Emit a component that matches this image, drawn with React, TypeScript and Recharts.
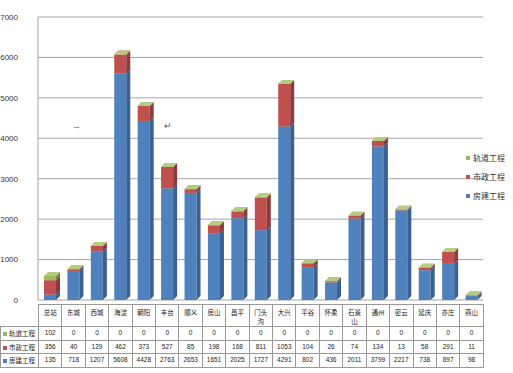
import React from 'react';
import { BarChart, Bar, XAxis, YAxis, CartesianGrid } from 'recharts';

const categories = ['总站', '东城', '西城', '海淀', '朝阳', '丰台', '顺义', '房山', '昌平', '门头沟', '大兴', '平谷', '怀柔', '石景山', '通州', '密云', '延庆', '亦庄', '燕山'];
const fangjian = [135, 718, 1207, 5608, 4428, 2763, 2653, 1651, 2025, 1727, 4291, 802, 436, 2011, 3799, 2217, 738, 897, 98];
const shizheng = [356, 40, 129, 462, 373, 527, 85, 198, 168, 811, 1053, 104, 26, 74, 134, 13, 58, 291, 11];
const guidao = [102, 0, 0, 0, 0, 0, 0, 0, 0, 0, 0, 0, 0, 0, 0, 0, 0, 0, 0];
const yTicks = [0, 1000, 2000, 3000, 4000, 5000, 6000, 7000];

const series = [
  { key: 'guidao', name: '轨道工程', front: '#9BBB59', side: '#738B42', top: '#B3CC80', values: guidao },
  { key: 'shizheng', name: '市政工程', front: '#C0504D', side: '#8E3B39', top: '#D07572', values: shizheng },
  { key: 'fangjian', name: '房建工程', front: '#4F81BD', side: '#3A6192', top: '#7298CB', values: fangjian },
];

const data = categories.map((c, i) => ({
  name: c,
  fangjian: fangjian[i],
  shizheng: shizheng[i],
  guidao: guidao[i],
}));

const D = 4;
const make3D = (front: string, side: string, top: string) => (props: any) => {
  const { x, y, width, height } = props;
  if (x == null || y == null) return <g />;
  const w = width, h = Math.max(height, 0);
  return (
    <g>
      <rect x={x} y={y} width={w} height={h} fill={front} />
      <polygon points={`${x + w},${y} ${x + w + D},${y - D} ${x + w + D},${y + h - D} ${x + w},${y + h}`} fill={side} />
      <polygon points={`${x},${y} ${x + D},${y - D} ${x + w + D},${y - D} ${x + w},${y}`} fill={top} />
    </g>
  );
};

const PLOT_LEFT = 38;
const PLOT_RIGHT = 483;
const colW = (PLOT_RIGHT - PLOT_LEFT) / categories.length;
const cjk = '"Noto Sans CJK SC", "Noto Sans", sans-serif';

const cellBorder = '1px solid #9a9a9a';

export default function App() {
  return (
    <div style={{ position: 'absolute', left: 0, top: 0, width: 513, height: 373, background: '#fff' }}>
      <BarChart
        width={513}
        height={312}
        data={data}
        margin={{ top: 17, right: 513 - PLOT_RIGHT, bottom: 12, left: 0 }}
        barSize={12}
      >
        <CartesianGrid vertical={false} stroke="#A6A6A6" strokeWidth={1} />
        <XAxis dataKey="name" hide />
        <YAxis
          domain={[0, 7000]}
          ticks={yTicks}
          width={PLOT_LEFT}
          axisLine={{ stroke: '#A6A6A6' }}
          tickLine={false}
          tickMargin={14}
          tick={{ fontSize: 8, fill: '#333', fontFamily: 'Liberation Sans, Arial, sans-serif' }}
          interval={0}
        />
        <Bar dataKey="fangjian" name="房建工程" stackId="a" fill="#4F81BD" isAnimationActive={false} shape={make3D('#4F81BD', '#3A6192', '#7298CB')} />
        <Bar dataKey="shizheng" name="市政工程" stackId="a" fill="#C0504D" isAnimationActive={false} shape={make3D('#C0504D', '#8E3B39', '#D07572')} />
        <Bar dataKey="guidao" name="轨道工程" stackId="a" fill="#9BBB59" isAnimationActive={false} shape={make3D('#9BBB59', '#738B42', '#B3CC80')} />
      </BarChart>
      <div style={{ position: 'absolute', left: 466, top: 148, fontFamily: cjk, fontSize: 8, color: '#333' }}>
        {series.map((s) => (
          <div key={s.key} style={{ display: 'flex', alignItems: 'center', height: 19 }}>
            <span style={{ width: 4, height: 4, background: s.front, display: 'inline-block', marginRight: 3 }} />
            <span>{s.name}</span>
          </div>
        ))}
      </div>
      <span style={{ position: 'absolute', left: 72, top: 121, fontSize: 9, color: '#555' }}>→</span>
      <span style={{ position: 'absolute', left: 164, top: 121, fontSize: 9, color: '#555' }}>↵</span>
      <table
        style={{
          position: 'absolute',
          left: 0,
          top: 304,
          borderCollapse: 'collapse',
          tableLayout: 'fixed',
          width: PLOT_RIGHT,
          fontFamily: cjk,
          fontSize: 6.5,
          color: '#222',
        }}
      >
        <colgroup>
          <col style={{ width: PLOT_LEFT }} />
          {categories.map((c) => (
            <col key={c} style={{ width: colW }} />
          ))}
        </colgroup>
        <tbody>
          <tr style={{ height: 22 }}>
            <td style={{ borderRight: cellBorder, borderBottom: cellBorder }} />
            {categories.map((c) => (
              <td
                key={c}
                style={{ border: cellBorder, verticalAlign: 'top', textAlign: 'center', padding: '3px 3px 0 3px', lineHeight: '9px', wordBreak: 'break-all' }}
              >
                {c}
              </td>
            ))}
          </tr>
          {series.map((s) => (
            <tr key={s.key} style={{ height: 13.5 }}>
              <td style={{ border: cellBorder, padding: '0 0 0 2px', whiteSpace: 'nowrap', lineHeight: '12px' }}>
                <span style={{ display: 'inline-block', width: 4, height: 4, background: s.front, marginRight: 2, verticalAlign: 'middle' }} />
                {s.name}
              </td>
              {s.values.map((v, i) => (
                <td key={i} style={{ border: cellBorder, textAlign: 'center', padding: 0, lineHeight: '12px', fontFamily: 'Liberation Sans, Arial, sans-serif' }}>
                  {v}
                </td>
              ))}
            </tr>
          ))}
        </tbody>
      </table>
    </div>
  );
}
